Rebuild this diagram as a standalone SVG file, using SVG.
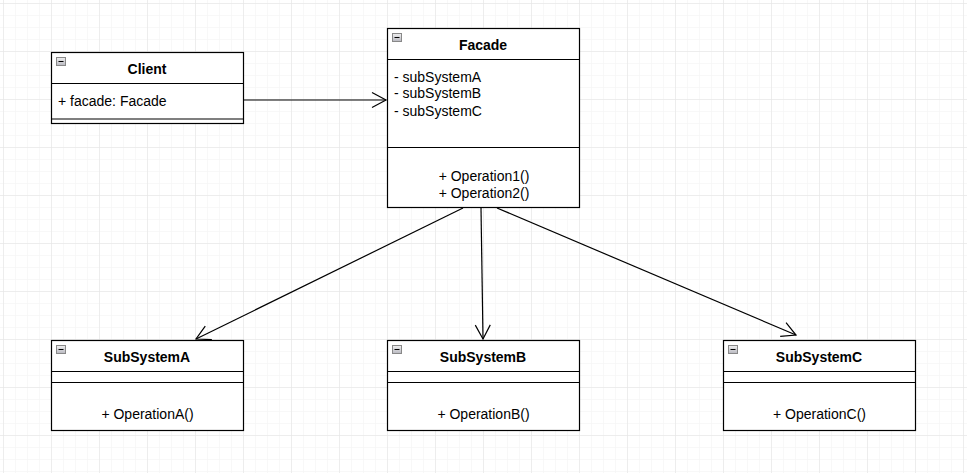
<svg xmlns="http://www.w3.org/2000/svg" width="967" height="473" viewBox="0 0 967 473">
<defs>
<pattern id="minor" x="3" y="3" width="12" height="12" patternUnits="userSpaceOnUse">
<path d="M0,0 H12 M0,0 V12" fill="none" stroke="#f2f2f2" stroke-width="1"/>
</pattern>
<pattern id="major" x="3" y="3" width="48" height="48" patternUnits="userSpaceOnUse">
<path d="M0,0 H48 M0,0 V48" fill="none" stroke="#e2e2e2" stroke-width="1"/>
</pattern>
<linearGradient id="ig" x1="0" y1="0" x2="0" y2="1">
<stop offset="0" stop-color="#f0f0f0"/>
<stop offset="1" stop-color="#b8b8c0"/>
</linearGradient>
<marker id="open" markerUnits="userSpaceOnUse" markerWidth="20" markerHeight="20" refX="15" refY="10" orient="auto">
<path d="M1,2.5 L15,10 L1,17.5" fill="none" stroke="#000" stroke-width="1.2"/>
</marker>
<g id="icon">
<rect x="0.5" y="0.5" width="9" height="8" fill="url(#ig)" stroke="#888"/>
<path d="M2.5,4.5 H7.5" stroke="#000" stroke-width="1"/>
</g>
</defs>
<style>
.box{fill:#fff;stroke:#000;stroke-width:1.2}
.ln{stroke:#000;stroke-width:1.2;fill:none}
.t{font-family:"Liberation Sans",Arial,sans-serif;font-size:14px;font-weight:bold;text-anchor:middle;fill:#000}
.a{font-family:"Liberation Sans",Arial,sans-serif;font-size:14px;fill:#000}
.m{font-family:"Liberation Sans",Arial,sans-serif;font-size:14px;fill:#000;text-anchor:middle}
.c{stroke:#000;stroke-width:1.2;fill:none;marker-end:url(#open)}
</style>
<rect width="967" height="473" fill="#fff"/>
<rect width="967" height="473" fill="url(#minor)"/>
<rect width="967" height="473" fill="url(#major)"/>

<g id="connectors">
<line class="c" x1="243" y1="100" x2="386" y2="100"/>
<line class="c" x1="463" y1="208" x2="196" y2="339"/>
<line class="c" x1="481" y1="208" x2="483" y2="339"/>
<line class="c" x1="497" y1="208" x2="796" y2="335"/>
</g>

<g id="client">
<rect class="box" x="51.5" y="52.5" width="192" height="71"/>
<path class="ln" d="M51.5,83.5 H243.5 M51.5,119 H243.5"/>
<use href="#icon" x="56" y="57"/>
<text class="t" x="147" y="74">Client</text>
<text class="a" x="58" y="105.5">+ facade: Facade</text>
</g>

<g id="facade">
<rect class="box" x="387.5" y="28.5" width="192" height="179"/>
<path class="ln" d="M387.5,59.5 H579.5 M387.5,147.5 H579.5"/>
<use href="#icon" x="392" y="33"/>
<text class="t" x="483" y="49.5">Facade</text>
<text class="a" x="394" y="82">- subSystemA</text>
<text class="a" x="394" y="98">- subSystemB</text>
<text class="a" x="394" y="116">- subSystemC</text>
<text class="m" x="484" y="181">+ Operation1()</text>
<text class="m" x="484" y="198">+ Operation2()</text>
</g>

<g id="subsystemA">
<rect class="box" x="51.5" y="340.5" width="192" height="90"/>
<path class="ln" d="M51.5,371.5 H243.5 M51.5,382.5 H243.5"/>
<use href="#icon" x="56" y="345"/>
<text class="t" x="147" y="362">SubSystemA</text>
<text class="m" x="147.5" y="419">+ OperationA()</text>
</g>

<g id="subsystemB">
<rect class="box" x="387.5" y="340.5" width="192" height="90"/>
<path class="ln" d="M387.5,371.5 H579.5 M387.5,382.5 H579.5"/>
<use href="#icon" x="392" y="345"/>
<text class="t" x="483" y="362">SubSystemB</text>
<text class="m" x="483.5" y="419">+ OperationB()</text>
</g>

<g id="subsystemC">
<rect class="box" x="723.5" y="340.5" width="192" height="90"/>
<path class="ln" d="M723.5,371.5 H915.5 M723.5,382.5 H915.5"/>
<use href="#icon" x="728" y="345"/>
<text class="t" x="819" y="362">SubSystemC</text>
<text class="m" x="819.5" y="419">+ OperationC()</text>
</g>
</svg>
